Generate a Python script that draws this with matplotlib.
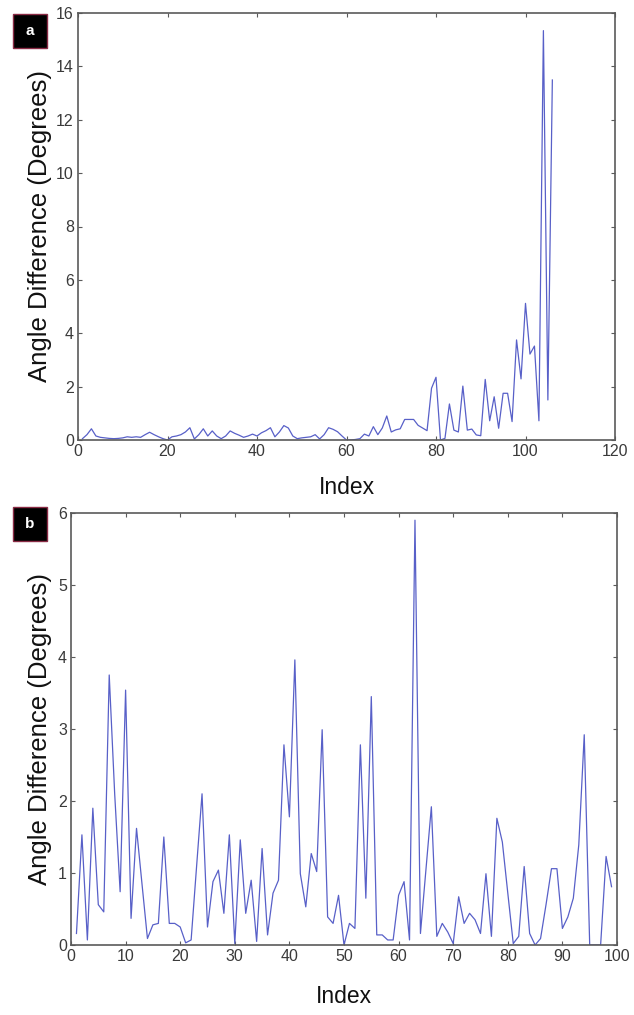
import numpy as np
import matplotlib.pyplot as plt
from matplotlib.patches import FancyBboxPatch

plt.rcParams['font.family'] = ['Liberation Sans', 'DejaVu Sans']

# panel a: angle difference per index (1..106)
idx_a = np.arange(1, 107)
angle_a = [
    0.05, 0.20, 0.42, 0.15, 0.10, 0.08, 0.06, 0.05, 0.06, 0.08,
    0.12, 0.10, 0.12, 0.10, 0.20, 0.29, 0.20, 0.12, 0.05, 0.00,
    0.12, 0.15, 0.20, 0.30, 0.46, 0.04, 0.20, 0.42, 0.15, 0.34,
    0.15, 0.05, 0.15, 0.34, 0.25, 0.18, 0.10, 0.15, 0.22, 0.15,
    0.27, 0.35, 0.46, 0.12, 0.30, 0.54, 0.45, 0.15, 0.05, 0.08,
    0.10, 0.12, 0.20, 0.04, 0.20, 0.46, 0.40, 0.31, 0.15, 0.00,
    0.00, 0.02, 0.05, 0.22, 0.15, 0.50, 0.20, 0.45, 0.90, 0.30,
    0.38, 0.42, 0.77, 0.77, 0.77, 0.55, 0.45, 0.35, 1.94, 2.35,
    0.00, 0.06, 1.35, 0.37, 0.30, 2.02, 0.37, 0.41, 0.19, 0.16,
    2.27, 0.72, 1.62, 0.44, 1.75, 1.75, 0.69, 3.75, 2.29, 5.12,
    3.22, 3.52, 0.72, 15.34, 1.50, 13.49,
]

# panel b: angle difference per index (1..99)
idx_b = np.arange(1, 100)
angle_b = [
    0.16, 1.53, 0.07, 1.90, 0.56, 0.46, 3.75, 2.10, 0.74, 3.54,
    0.37, 1.62, 0.85, 0.09, 0.28, 0.30, 1.50, 0.30, 0.30, 0.25,
    0.03, 0.07, 1.09, 2.10, 0.25, 0.88, 1.04, 0.44, 1.53, 0.02,
    1.46, 0.44, 0.90, 0.05, 1.34, 0.14, 0.72, 0.90, 2.78, 1.78,
    3.96, 0.99, 0.53, 1.27, 1.02, 2.99, 0.39, 0.30, 0.69, 0.00,
    0.30, 0.23, 2.78, 0.65, 3.45, 0.14, 0.14, 0.07, 0.07, 0.69,
    0.88, 0.07, 5.90, 0.16, 1.04, 1.92, 0.12, 0.30, 0.18, 0.02,
    0.67, 0.30, 0.44, 0.35, 0.16, 0.99, 0.12, 1.76, 1.43, 0.72,
    0.02, 0.12, 1.09, 0.16, 0.00, 0.09, 0.56, 1.06, 1.06, 0.23,
    0.39, 0.65, 1.39, 2.92, 0.00, 0.00, 0.00, 1.23, 0.81,
]

line_color = '#5860c8'
spine_color = '#5a5a5a'
text_color = '#3a3a3a'

W, H = 634, 1015
fig = plt.figure(figsize=(W / 100, H / 100), dpi=100)


def px_axes(l, t, r, b):
    return fig.add_axes([l / W, 1 - b / H, (r - l) / W, (b - t) / H])


def style(ax, ylab_x, xlab_pad):
    for s in ax.spines.values():
        s.set_color(spine_color)
        s.set_linewidth(1.2)
    ax.tick_params(direction='in', length=3, width=0.8, color=spine_color,
                   labelsize=11.5, labelcolor=text_color, top=True, right=True, pad=3)
    ax.set_xlabel('Index', fontsize=16.5, color='#111111', labelpad=xlab_pad)
    ax.set_ylabel('Angle Difference (Degrees)', fontsize=18.5, color='#111111')
    ax.yaxis.set_label_coords(ylab_x, 0.5)


def panel_tag(letter, x, y):
    box = FancyBboxPatch((x / W, 1 - (y + 34) / H), 34 / W, 34 / H,
                         boxstyle='square,pad=0', transform=fig.transFigure,
                         facecolor='black', edgecolor='#8a2b45', linewidth=1.0)
    fig.patches.append(box)
    fig.text((x + 17) / W, 1 - (y + 17) / H, letter, color='white', fontsize=11,
             fontweight='bold', ha='center', va='center')


ax1 = px_axes(78, 13, 615, 440)
ax1.plot(idx_a, angle_a, color=line_color, linewidth=0.9)
ax1.set_xlim(0, 120)
ax1.set_ylim(0, 16)
ax1.set_xticks(range(0, 121, 20))
ax1.set_yticks(range(0, 17, 2))
style(ax1, (52 - 78) / 537, 12)

ax2 = px_axes(71, 513, 617, 945)
ax2.plot(idx_b, angle_b, color=line_color, linewidth=0.9)
ax2.set_xlim(0, 100)
ax2.set_ylim(0, 6)
ax2.set_xticks(range(0, 101, 10))
ax2.set_yticks(range(0, 7))
style(ax2, (52 - 71) / 546, 15)

panel_tag('a', 13, 14)
panel_tag('b', 13, 507)

fig.savefig('out.png', dpi=100)
